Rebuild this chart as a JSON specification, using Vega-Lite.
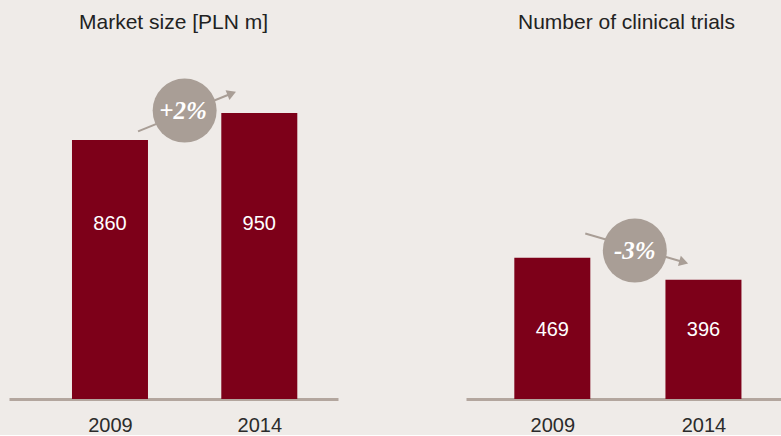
{
  "$schema": "https://vega.github.io/schema/vega-lite/v6.json",
  "background": "#efebe8",
  "padding": {"left": 9, "top": 12, "right": 0, "bottom": 0},
  "spacing": 128,
  "config": {
    "view": {"stroke": null},
    "font": "Liberation Sans",
    "title": {"fontSize": 21, "fontWeight": "normal", "color": "#222222", "font": "Liberation Sans", "offset": 18, "anchor": "middle"},
    "axisX": {
      "domainColor": "#b3a69e", "domainWidth": 3, "ticks": false, "grid": false,
      "labelFontSize": 20, "labelColor": "#2b2b2b", "labelPadding": 16, "labelFont": "Liberation Sans",
      "title": null, "labelFlush": false
    }
  },
  "datasets": {
    "market": [{"year": 2009, "value": 860}, {"year": 2014, "value": 950}],
    "trials": [{"year": 2009, "value": 469}, {"year": 2014, "value": 396}]
  },
  "hconcat": [
    {
      "title": "Market size [PLN m]",
      "width": 329,
      "height": 348,
      "layer": [
        {
          "data": {"name": "market"},
          "mark": {"type": "bar", "size": 76, "color": "#7d0019"},
          "encoding": {
            "x": {"field": "year", "type": "quantitative", "scale": {"domain": [2005.786, 2016.468], "nice": false, "zero": false}, "axis": {"values": [2009, 2014], "format": "d"}},
            "y": {"field": "value", "type": "quantitative", "scale": {"domain": [0, 1156], "nice": false}, "axis": null}
          }
        },
        {
          "data": {"name": "market"},
          "mark": {"type": "text", "color": "white", "fontSize": 20, "font": "Liberation Sans"},
          "encoding": {
            "x": {"field": "year", "type": "quantitative"},
            "y": {"datum": 580},
            "text": {"field": "value", "type": "quantitative"}
          }
        },
        {
          "data": {"values": [{"label": "+2%"}]},
          "mark": {"type": "rule", "color": "#a99e96", "strokeWidth": 2},
          "encoding": {"x": {"datum": 2009.94}, "y": {"datum": 889}, "x2": {"datum": 2013.05}, "y2": {"datum": 1014}}
        },
        {
          "data": {"values": [{"label": "+2%"}]},
          "mark": {"type": "point", "shape": "triangle", "filled": true, "color": "#a99e96", "opacity": 1, "size": 110, "angle": 68.4},
          "encoding": {"x": {"datum": 2013.03}, "y": {"datum": 1013}}
        },
        {
          "data": {"values": [{"label": "+2%"}]},
          "mark": {"type": "point", "shape": "circle", "filled": true, "color": "#a99e96", "opacity": 1, "size": 4096},
          "encoding": {"x": {"datum": 2011.5}, "y": {"datum": 958}}
        },
        {
          "data": {"values": [{"label": "+2%"}]},
          "mark": {"type": "text", "color": "white", "fontSize": 25, "font": "Liberation Serif", "fontWeight": "bold", "fontStyle": "italic"},
          "encoding": {"x": {"datum": 2011.45}, "y": {"datum": 958}, "text": {"field": "label"}}
        }
      ]
    },
    {
      "title": {"text": "Number of clinical trials", "dx": 3},
      "width": 315,
      "height": 348,
      "layer": [
        {
          "data": {"name": "trials"},
          "mark": {"type": "bar", "size": 76, "color": "#7d0019"},
          "encoding": {
            "x": {"field": "year", "type": "quantitative", "scale": {"domain": [2006.31, 2016.4], "nice": false, "zero": false}, "axis": {"values": [2009, 2014], "format": "d"}},
            "y": {"field": "value", "type": "quantitative", "scale": {"domain": [0, 1156], "nice": false}, "axis": null}
          }
        },
        {
          "data": {"name": "trials"},
          "mark": {"type": "text", "color": "white", "fontSize": 20, "font": "Liberation Sans"},
          "encoding": {
            "x": {"field": "year", "type": "quantitative"},
            "y": {"datum": 230},
            "text": {"field": "value", "type": "quantitative"}
          }
        },
        {
          "data": {"values": [{"label": "-3%"}]},
          "mark": {"type": "rule", "color": "#a99e96", "strokeWidth": 2},
          "encoding": {"x": {"datum": 2010.09}, "y": {"datum": 550}, "x2": {"datum": 2013.3}, "y2": {"datum": 456}}
        },
        {
          "data": {"values": [{"label": "-3%"}]},
          "mark": {"type": "point", "shape": "triangle", "filled": true, "color": "#a99e96", "opacity": 1, "size": 110, "angle": 105.8},
          "encoding": {"x": {"datum": 2013.3}, "y": {"datum": 456}}
        },
        {
          "data": {"values": [{"label": "-3%"}]},
          "mark": {"type": "point", "shape": "circle", "filled": true, "color": "#a99e96", "opacity": 1, "size": 4096},
          "encoding": {"x": {"datum": 2011.73}, "y": {"datum": 493}}
        },
        {
          "data": {"values": [{"label": "-3%"}]},
          "mark": {"type": "text", "color": "white", "fontSize": 25, "font": "Liberation Serif", "fontWeight": "bold", "fontStyle": "italic"},
          "encoding": {"x": {"datum": 2011.73}, "y": {"datum": 493}, "text": {"field": "label"}}
        }
      ]
    }
  ]
}
